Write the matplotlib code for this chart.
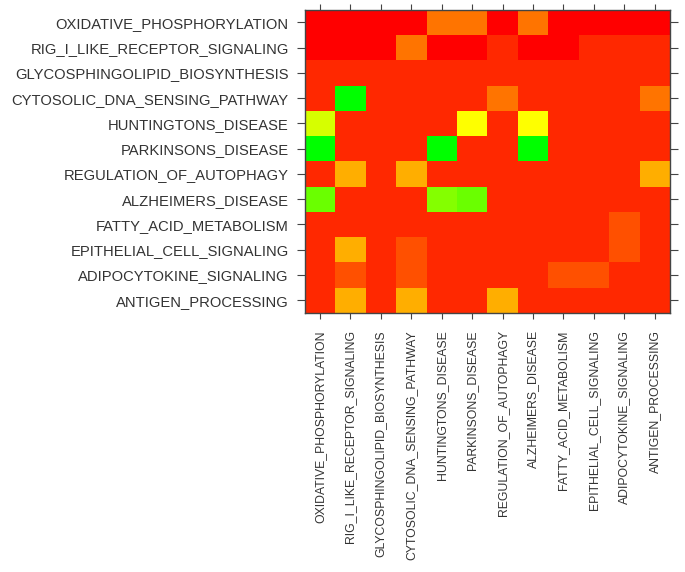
import matplotlib
matplotlib.use("Agg")
import matplotlib.pyplot as plt
from matplotlib.colors import LinearSegmentedColormap
import colorsys
import numpy as np

pathways = ["OXIDATIVE_PHOSPHORYLATION", "RIG_I_LIKE_RECEPTOR_SIGNALING",
            "GLYCOSPHINGOLIPID_BIOSYNTHESIS", "CYTOSOLIC_DNA_SENSING_PATHWAY",
            "HUNTINGTONS_DISEASE", "PARKINSONS_DISEASE", "REGULATION_OF_AUTOPHAGY",
            "ALZHEIMERS_DISEASE", "FATTY_ACID_METABOLISM", "EPITHELIAL_CELL_SIGNALING",
            "ADIPOCYTOKINE_SIGNALING", "ANTIGEN_PROCESSING"]

scores = [
    [0.00, 0.00, 0.00, 0.00, 0.23, 0.23, 0.00, 0.23, 0.00, 0.00, 0.00, 0.00],
    [0.00, 0.00, 0.00, 0.23, 0.00, 0.00, 0.08, 0.00, 0.00, 0.08, 0.08, 0.08],
    [0.08, 0.08, 0.08, 0.08, 0.08, 0.08, 0.08, 0.08, 0.08, 0.08, 0.08, 0.08],
    [0.08, 1.00, 0.08, 0.08, 0.08, 0.08, 0.23, 0.08, 0.08, 0.08, 0.08, 0.23],
    [0.58, 0.08, 0.08, 0.08, 0.08, 0.50, 0.08, 0.50, 0.08, 0.08, 0.08, 0.08],
    [1.00, 0.08, 0.08, 0.08, 1.00, 0.08, 0.08, 1.00, 0.08, 0.08, 0.08, 0.08],
    [0.08, 0.34, 0.08, 0.34, 0.08, 0.08, 0.08, 0.08, 0.08, 0.08, 0.08, 0.34],
    [0.79, 0.08, 0.08, 0.08, 0.74, 0.79, 0.08, 0.08, 0.08, 0.08, 0.08, 0.08],
    [0.08, 0.08, 0.08, 0.08, 0.08, 0.08, 0.08, 0.08, 0.08, 0.08, 0.16, 0.08],
    [0.08, 0.34, 0.08, 0.16, 0.08, 0.08, 0.08, 0.08, 0.08, 0.08, 0.16, 0.08],
    [0.08, 0.16, 0.08, 0.16, 0.08, 0.08, 0.08, 0.08, 0.16, 0.16, 0.08, 0.08],
    [0.08, 0.34, 0.08, 0.34, 0.08, 0.08, 0.34, 0.08, 0.08, 0.08, 0.08, 0.08],
]

# red -> yellow -> green, along hue
cols = [colorsys.hsv_to_rgb(h / 3.0, 1, 1) for h in np.linspace(0, 1, 61)]
cmap = LinearSegmentedColormap.from_list("rg", cols)

plt.rcParams['font.family'] = ['Liberation Sans', 'DejaVu Sans']

fig = plt.figure(figsize=(6.85, 5.72), dpi=100)
ax = fig.add_axes([0.445, 0.453, 0.533, 0.530])
ax.pcolormesh(np.array(scores), cmap=cmap, vmin=0, vmax=1)
ax.set_xlim(0, 12)
ax.set_ylim(12, 0)

pos = np.arange(12) + 0.5
ax.set_xticks(pos)
ax.set_yticks(pos)
ax.set_xticklabels(pathways, rotation=90, fontsize=8.8, color="#333333")
ax.set_yticklabels(pathways, fontsize=10.6, color="#333333")
ax.tick_params(top=True, right=True, direction="out", width=0.8, color="#444444")
ax.tick_params(axis="x", length=4.5, pad=8)
ax.tick_params(axis="y", length=6, pad=5.5)
for s in ax.spines.values():
    s.set_color("#444444")
    s.set_linewidth(1.0)

fig.savefig("out.png", dpi=100)
